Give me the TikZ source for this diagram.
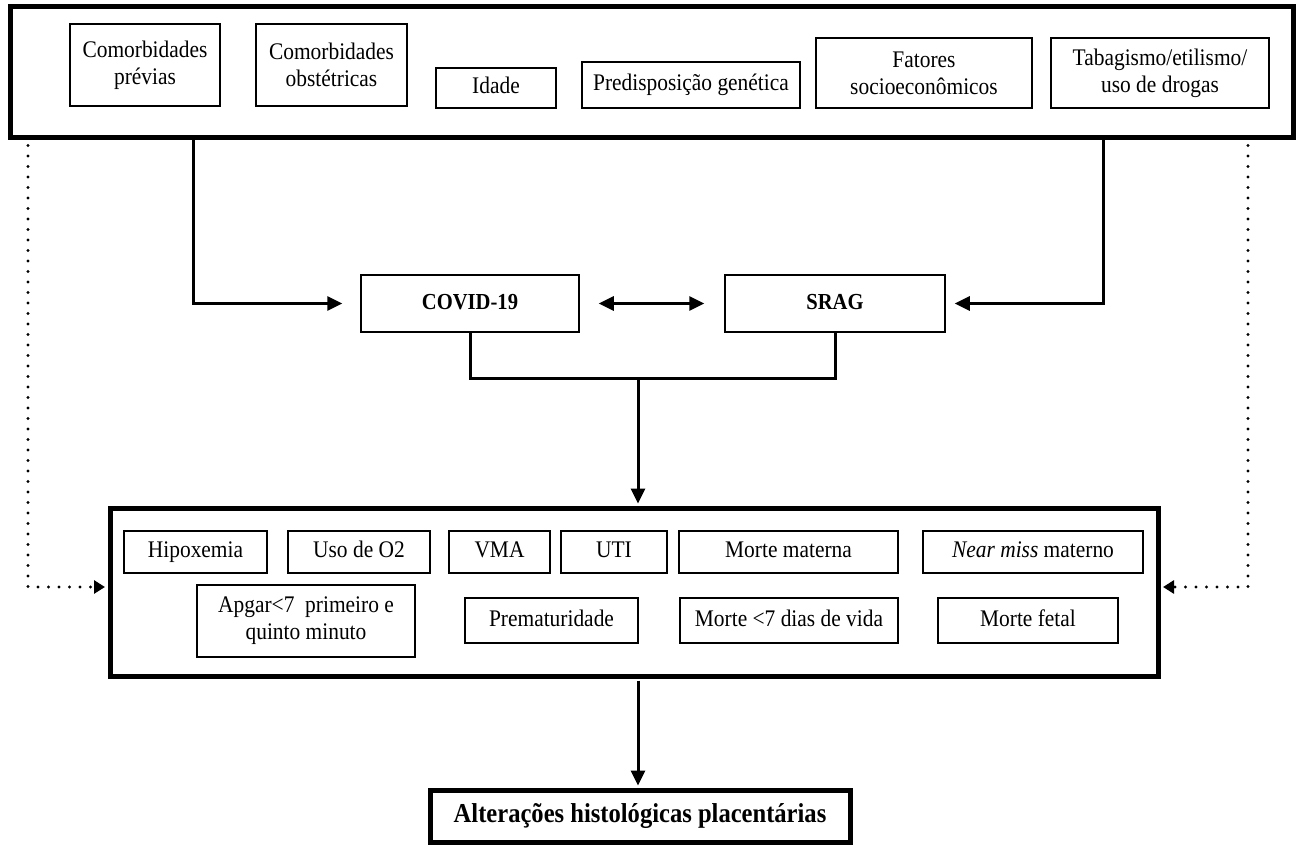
\documentclass[tikz,border=0pt]{standalone}
\usepackage{fontspec}
\setmainfont{Liberation Serif}[FakeStretch=0.9]
\usetikzlibrary{arrows.meta}

\begin{document}
\begin{tikzpicture}[x=1pt, y=-1pt, >={Triangle[length=15pt,width=14pt]}]

  % Define box and line styles
  \tikzset{
    group box/.style={draw, line width=5pt, inner sep=0pt},
    item box/.style={draw, line width=1.5pt, align=center, inner sep=2pt,
      font=\fontsize{23.8}{27}\selectfont},
    one line/.style={text height=16pt, text depth=5pt},
    main box/.style={item box, one line, font=\fontsize{22.9}{27}\selectfont\bfseries},
    link/.style={line width=3pt},
    dotted link/.style={line width=3.2pt, line cap=round,
      dash pattern=on 0pt off 10.5pt, -{Triangle[length=11pt,width=13pt]}},
  }

  \useasboundingbox (0,0) rectangle (1302,848);

  % Risk factors
  \node[group box, minimum width=1283pt, minimum height=131pt] (risk) at (651.5,72.5) {};
  \node[item box, minimum width=150pt, minimum height=82pt] (prev) at (145,65) {Comorbidades\\prévias};
  \node[item box, minimum width=151pt, minimum height=82pt] (obst) at (331.5,65) {Comorbidades\\obstétricas};
  \node[item box, one line, minimum width=120pt, minimum height=40pt] (age) at (496,88) {Idade};
  \node[item box, one line, minimum width=218pt, minimum height=46pt] (gen) at (691,85) {Predisposição genética};
  \node[item box, minimum width=216pt, minimum height=70pt] (socio) at (924,73) {Fatores\\socioeconômicos};
  \node[item box, minimum width=218pt, minimum height=70pt] (drug) at (1160,73) {Tabagismo/etilismo/\\uso de drogas};

  % Infections
  \node[main box, minimum width=218pt, minimum height=57pt] (cov) at (470,303.5) {COVID-19};
  \node[main box, minimum width=220pt, minimum height=57pt] (srag) at (835,303.5) {SRAG};

  % Outcomes
  \node[group box, minimum width=1048pt, minimum height=168pt] (out) at (634,592) {};
  \node[item box, one line, minimum width=143pt, minimum height=42pt] (hipo) at (195.5,552) {Hipoxemia};
  \node[item box, one line, minimum width=142pt, minimum height=42pt] (oxy) at (359,552) {Uso de O2};
  \node[item box, one line, minimum width=101pt, minimum height=42pt] (vma) at (499.5,552) {VMA};
  \node[item box, one line, minimum width=106pt, minimum height=42pt] (uti) at (614,552) {UTI};
  \node[item box, one line, minimum width=219pt, minimum height=42pt] (mmat) at (788.5,552) {Morte materna};
  \node[item box, one line, minimum width=220pt, minimum height=42pt] (near) at (1033,552) {\textit{Near miss} materno};
  \node[item box, minimum width=218pt, minimum height=72pt] (apgar) at (306,621) {Apgar<7~ primeiro e\\quinto minuto};
  \node[item box, one line, minimum width=173pt, minimum height=45pt] (prem) at (551.5,620.5) {Prematuridade};
  \node[item box, one line, minimum width=218pt, minimum height=45pt] (mneo) at (789,620.5) {Morte <7 dias de vida};
  \node[item box, one line, minimum width=180pt, minimum height=45pt] (mfet) at (1028,620.5) {Morte fetal};

  % Result
  \node[group box, one line, minimum width=420pt, minimum height=52pt,
    font=\fontsize{27.3}{30}\selectfont\bfseries] (res) at (640,816.5) {Alterações histológicas placentárias};

  % Connectors
  \coordinate (jl) at (193,0);
  \coordinate (jr) at (1103,0);
  \coordinate (mrg) at (638,378);
  \coordinate (dl) at (28,587);
  \coordinate (dr) at (1248,587);

  \draw[link, ->, shorten >=18pt] (risk.south -| jl) |- (cov.west);
  \draw[link, ->, shorten >=9pt] (risk.south -| jr) |- (srag.east);
  \draw[link, <->, shorten <=19pt, shorten >=20pt] (cov) -- (srag);
  \draw[link] (cov.south) |- (mrg) -| (srag.south);
  \draw[link, ->, shorten >=2pt] (mrg) -- (out.north -| mrg);
  \draw[link, ->, shorten <=2pt, shorten >=2.5pt] (out.south -| mrg) -- (res.north -| mrg);

  \draw[dotted link, shorten >=2.5pt] (risk.south -| dl) ++(0,5) -- (dl) -- (out.west |- dl);
  \draw[dotted link, shorten >=2.5pt] (risk.south -| dr) ++(0,5) -- (dr) -- (out.east |- dr);

\end{tikzpicture}
\end{document}
